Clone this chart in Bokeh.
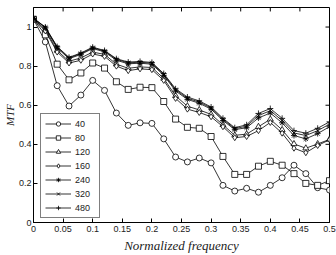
from bokeh.plotting import figure
from bokeh.models import Range1d, FixedTicker, Legend, LegendItem
from bokeh.embed import file_html
from bokeh.resources import INLINE

freq = [0.00, 0.02, 0.04, 0.06, 0.08, 0.10, 0.12, 0.14, 0.16, 0.18, 0.20, 0.22, 0.24,
        0.26, 0.28, 0.30, 0.32, 0.34, 0.36, 0.38, 0.40, 0.42, 0.44, 0.46, 0.48, 0.50]

mtf_40 = [1.04, 0.924, 0.700, 0.596, 0.652, 0.727, 0.676, 0.560, 0.497, 0.510, 0.507, 0.428, 0.335,
          0.310, 0.330, 0.305, 0.190, 0.161, 0.175, 0.155, 0.190, 0.229, 0.293, 0.250, 0.178, 0.166]
mtf_80 = [1.04, 0.960, 0.810, 0.730, 0.765, 0.816, 0.790, 0.720, 0.681, 0.692, 0.690, 0.619, 0.529,
          0.487, 0.482, 0.440, 0.338, 0.246, 0.246, 0.288, 0.313, 0.293, 0.250, 0.200, 0.190, 0.214]
mtf_120 = [1.04, 0.988, 0.880, 0.825, 0.842, 0.872, 0.860, 0.810, 0.789, 0.796, 0.793, 0.737, 0.648,
           0.595, 0.576, 0.553, 0.500, 0.446, 0.452, 0.490, 0.528, 0.474, 0.402, 0.380, 0.402, 0.425]
mtf_160 = [1.04, 0.980, 0.872, 0.816, 0.830, 0.862, 0.850, 0.800, 0.777, 0.786, 0.782, 0.727, 0.635,
           0.580, 0.563, 0.541, 0.490, 0.434, 0.440, 0.470, 0.512, 0.457, 0.380, 0.357, 0.394, 0.423]
mtf_240 = [1.045, 0.995, 0.893, 0.838, 0.860, 0.890, 0.873, 0.830, 0.812, 0.815, 0.810, 0.753, 0.673,
           0.630, 0.610, 0.580, 0.522, 0.475, 0.485, 0.535, 0.560, 0.510, 0.445, 0.428, 0.455, 0.490]
mtf_320 = [1.045, 0.998, 0.897, 0.842, 0.864, 0.894, 0.877, 0.835, 0.817, 0.820, 0.815, 0.758, 0.679,
           0.636, 0.616, 0.586, 0.528, 0.480, 0.493, 0.547, 0.572, 0.522, 0.458, 0.445, 0.470, 0.503]
mtf_480 = [1.045, 1.000, 0.900, 0.845, 0.867, 0.897, 0.880, 0.838, 0.821, 0.824, 0.819, 0.762, 0.684,
           0.642, 0.622, 0.591, 0.533, 0.485, 0.500, 0.558, 0.583, 0.533, 0.470, 0.457, 0.482, 0.515]

labels = ["40", "80", "120", "160", "240", "320", "480"]
series = [mtf_40, mtf_80, mtf_120, mtf_160, mtf_240, mtf_320, mtf_480]
markers = ["circle", "square", "triangle", "diamond", "asterisk", "x", "cross"]

x_ticks = [0, 0.05, 0.1, 0.15, 0.2, 0.25, 0.3, 0.35, 0.4, 0.45, 0.5]
y_ticks = [0, 0.2, 0.4, 0.6, 0.8, 1]
x_lo, x_hi = 0, 0.5
y_lo, y_hi = 0, 1.1

p = figure(width=336, height=255, output_backend="svg", toolbar_location=None,
           x_range=Range1d(x_lo, x_hi), y_range=Range1d(y_lo, y_hi),
           min_border_left=32, min_border_right=7, min_border_top=7, min_border_bottom=31)
p.title.visible = False
p.background_fill_color = "white"
p.border_fill_color = "white"
p.outline_line_color = "black"
p.outline_line_width = 1
p.xgrid.visible = False
p.ygrid.visible = False

tick_font = "Liberation Sans"
for ax in [p.xaxis[0], p.yaxis[0]]:
    ax.major_tick_in = 4
    ax.major_tick_out = 0
    ax.minor_tick_in = 0
    ax.minor_tick_out = 0
    ax.major_label_text_font = tick_font
    ax.major_label_text_font_size = "9px"
    ax.major_label_text_color = "#222222"
    ax.axis_line_color = "black"
    ax.axis_label_text_font = "Liberation Serif"
    ax.axis_label_text_font_style = "italic"
    ax.axis_label_text_font_size = "13px"
    ax.axis_label_text_color = "#222222"

p.xaxis[0].ticker = FixedTicker(ticks=x_ticks)
p.yaxis[0].ticker = FixedTicker(ticks=y_ticks)
p.xaxis[0].major_label_overrides = {0: "0", 0.5: "0.5"}
p.yaxis[0].major_label_overrides = {0: "0", 1: "1"}
p.xaxis[0].axis_label = "Normalized frequency"
p.yaxis[0].axis_label = "MTF"
p.yaxis[0].axis_label_text_font_size = "11px"
p.xaxis[0].major_label_standoff = 3
p.yaxis[0].major_label_standoff = 2
p.xaxis[0].axis_label_standoff = 3
p.yaxis[0].axis_label_standoff = 0

# inward ticks on the top and right edges of the box
tick_len_y = (y_hi - y_lo) * 4 / 217
tick_len_x = (x_hi - x_lo) * 4 / 297
p.segment(x0=x_ticks, y0=[y_hi] * len(x_ticks), x1=x_ticks, y1=[y_hi - tick_len_y] * len(x_ticks),
          line_color="black", line_width=1)
p.segment(x0=[x_hi] * len(y_ticks), y0=y_ticks, x1=[x_hi - tick_len_x] * len(y_ticks), y1=y_ticks,
          line_color="black", line_width=1)

items = []
for lab, ys, mk in zip(labels, series, markers):
    ln = p.line(freq, ys, line_color="black", line_width=0.8)
    sc = p.scatter(freq, ys, marker=mk, size=6, line_color="black", line_width=0.8,
                   fill_color="white" if mk not in ("asterisk", "x", "cross") else None)
    items.append(LegendItem(label=lab, renderers=[ln, sc]))

legend = Legend(items=items, location=(7, 4))
legend.border_line_color = "black"
legend.border_line_width = 1
legend.background_fill_color = "white"
legend.background_fill_alpha = 1
legend.label_text_font = tick_font
legend.label_text_font_size = "9px"
legend.label_text_color = "#222222"
legend.glyph_width = 26
legend.glyph_height = 11
legend.label_height = 11
legend.label_standoff = 4
legend.spacing = 3
legend.padding = 4
legend.margin = 0
p.add_layout(legend, "center")

open("out.html", "w").write(file_html(p, INLINE))
